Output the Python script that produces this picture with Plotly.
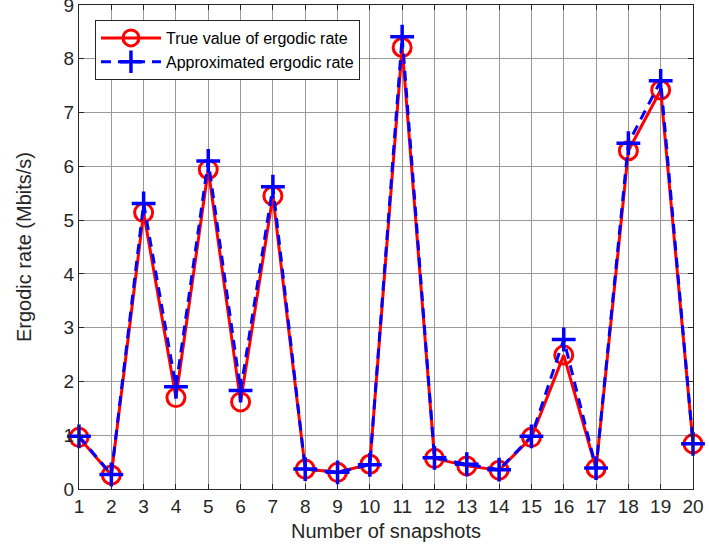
import plotly.graph_objects as go

snapshots = list(range(1, 21))
true_rate = [0.96, 0.26, 5.14, 1.70, 5.94, 1.62, 5.45, 0.37, 0.31, 0.46,
             8.21, 0.57, 0.43, 0.35, 0.96, 2.49, 0.38, 6.29, 7.42, 0.84]
approx_rate = [0.98, 0.27, 5.31, 1.90, 6.10, 1.83, 5.62, 0.37, 0.31, 0.45,
               8.41, 0.58, 0.46, 0.36, 0.98, 2.78, 0.39, 6.43, 7.59, 0.84]
x_ticks = list(range(1, 21))
y_ticks = list(range(0, 10))

fig = go.Figure()
fig.add_trace(go.Scatter(
    x=snapshots, y=true_rate, mode="lines+markers",
    name="True value of ergodic rate",
    line=dict(color="#ff0000", width=3),
    marker=dict(symbol="circle-open", size=18, color="#ff0000", line=dict(width=3, color="#ff0000")),
    cliponaxis=False,
))
fig.add_trace(go.Scatter(
    x=snapshots, y=approx_rate, mode="lines+markers",
    name="Approximated ergodic rate",
    line=dict(color="#0000ff", width=3, dash="10px,7px"),
    marker=dict(symbol="cross-thin-open", size=17, color="#0000ff", line=dict(width=3.5, color="#0000ff")),
    cliponaxis=False,
))

axis_common = dict(
    showgrid=True, gridcolor="#999999", gridwidth=1,
    showline=True, linecolor="#262626", linewidth=1.2, mirror="ticks",
    ticks="inside", ticklen=5, tickcolor="#262626",
    tickfont=dict(family="Liberation Sans, Arial, sans-serif", size=19, color="#262626"),
    zeroline=False, automargin=False, ticklabeloverflow="allow",
)

fig.update_layout(
    width=709, height=556,
    margin=dict(l=79, r=16, t=5, b=67),
    paper_bgcolor="white", plot_bgcolor="white",
    font=dict(family="Liberation Sans, Arial, sans-serif", color="#262626"),
    xaxis=dict(range=[1, 20], tickvals=x_ticks,
               title=dict(text="Number of snapshots", font=dict(size=20, color="#262626"), standoff=8),
               **axis_common),
    yaxis=dict(range=[0, 9], tickvals=y_ticks,
               title=dict(text="Ergodic rate (Mbits/s)", font=dict(size=20, color="#262626"), standoff=26),
               **axis_common),
    legend=dict(x=0.026, y=0.969, xanchor="left", yanchor="top",
                bgcolor="white", bordercolor="#262626", borderwidth=1,
                font=dict(size=16, color="#000000"), itemwidth=60,
                tracegroupgap=0),
    showlegend=True,
)

fig.write_html("out.html",
               config={"displayModeBar": False},
               post_script="document.body.style.margin='0';document.body.style.overflow='hidden';")
